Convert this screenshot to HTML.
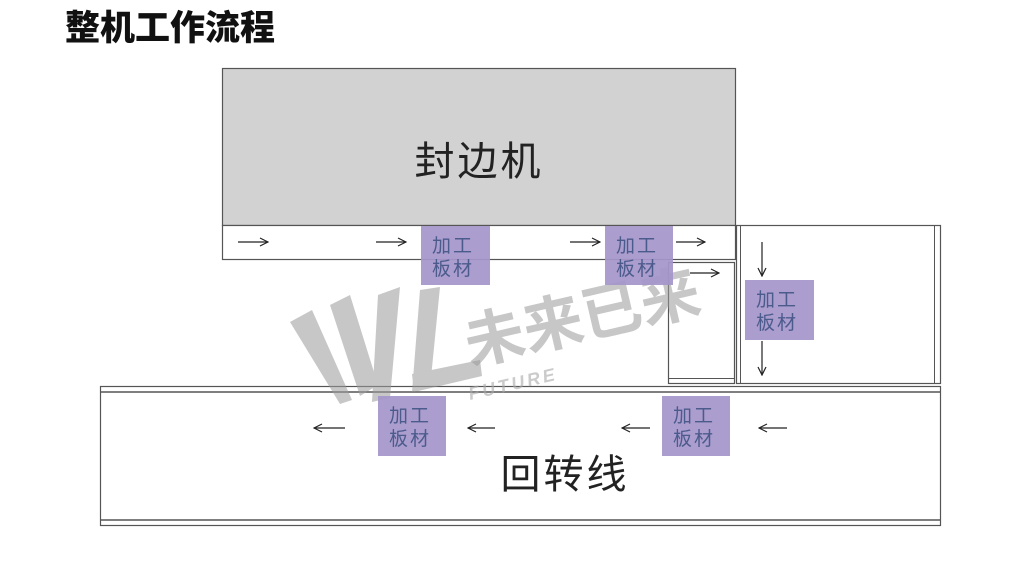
<!DOCTYPE html>
<html><head><meta charset="utf-8"><style>
body{margin:0;background:#fff;width:1030px;height:572px;overflow:hidden}
svg{display:block}
text{font-family:"Liberation Sans","Noto Sans CJK SC",sans-serif}
</style></head><body>
<svg width="1030" height="572" viewBox="0 0 1030 572" xmlns="http://www.w3.org/2000/svg">
<defs><marker id="a" markerWidth="10" markerHeight="10" refX="9" refY="5" orient="auto" markerUnits="userSpaceOnUse"><path d="M1,1 L9,5 L1,9" fill="none" stroke="#222" stroke-width="1.2"/></marker></defs>
<text x="65" y="40" font-size="35" font-weight="900" fill="#111" font-family="'Noto Sans CJK SC',sans-serif">整机工作流程</text>
<!-- machine -->
<rect x="222.5" y="68.5" width="513" height="157" fill="#d2d2d2" stroke="#555" stroke-width="1.2"/>
<text x="479" y="175" font-size="40" fill="#222" text-anchor="middle" font-family="'Noto Sans CJK SC',sans-serif" letter-spacing="3">封边机</text>
<rect x="222.5" y="225.5" width="513" height="34" fill="#fff" stroke="#555" stroke-width="1.2"/>
<!-- right area -->
<rect x="736.5" y="225.5" width="204" height="158" fill="#fff" stroke="#555" stroke-width="1.2"/>
<line x1="740.5" y1="226" x2="740.5" y2="383" stroke="#555"/>
<line x1="934.5" y1="226" x2="934.5" y2="383" stroke="#555"/>
<rect x="668.5" y="262.5" width="66" height="121" fill="#fff" stroke="#555" stroke-width="1.2"/>
<line x1="669" y1="378.5" x2="734" y2="378.5" stroke="#555"/>
<!-- bottom -->
<rect x="100.5" y="386.5" width="840" height="139" fill="#fff" stroke="#555" stroke-width="1.2"/>
<line x1="101" y1="392" x2="940" y2="392" stroke="#555" stroke-width="1.5"/>
<line x1="101" y1="520" x2="940" y2="520" stroke="#555" stroke-width="1.5"/>
<text x="565" y="488" font-size="40" fill="#222" text-anchor="middle" font-family="'Noto Sans CJK SC',sans-serif" letter-spacing="3">回转线</text>
<!-- watermark -->
<g fill="#9a9a9a" opacity="0.55">
<polygon points="290,322 312,310 352,400 340,404"/>
<polygon points="330,305 350,295 378,385 360,396"/>
<polygon points="378,295 400,287 390,398 372,402"/>
<polygon points="420,290 440,287 430,388 412,392"/>
<polygon points="412,374 480,360 482,376 414,392"/>
</g>
<text x="470" y="365" font-size="60" font-weight="bold" fill="#9a9a9a" opacity="0.55" transform="rotate(-13 470 365)" font-family="'Noto Sans CJK SC',sans-serif">未来已来</text>
<text x="470" y="400" font-size="18" font-style="italic" font-weight="bold" fill="#aaa" opacity="0.6" transform="rotate(-13 470 400)" letter-spacing="3">FUTURE</text>
<!-- arrows -->
<g stroke="#222" stroke-width="1.2" marker-end="url(#a)">
<line x1="238" y1="242" x2="268" y2="242"/>
<line x1="376" y1="242" x2="406" y2="242"/>
<line x1="570" y1="242" x2="600" y2="242"/>
<line x1="676" y1="242" x2="705" y2="242"/>
<line x1="690" y1="273" x2="719" y2="273"/>
<line x1="762" y1="242" x2="762" y2="276"/>
<line x1="762" y1="341" x2="762" y2="375"/>
<line x1="345" y1="428" x2="314" y2="428"/>
<line x1="495" y1="428" x2="468" y2="428"/>
<line x1="650" y1="428" x2="622" y2="428"/>
<line x1="787" y1="428" x2="759" y2="428"/>
</g>
<!-- purple boxes -->
<g fill="#a596ca" opacity="0.93">
<rect x="421" y="226" width="69" height="59"/>
<rect x="605" y="226" width="68" height="59"/>
<rect x="745" y="280" width="69" height="60"/>
<rect x="378" y="396" width="68" height="60"/>
<rect x="662" y="396" width="68" height="60"/>
</g>
<g font-size="19" fill="#4b5b8c" font-family="'Noto Sans CJK SC',sans-serif" letter-spacing="2">
<text x="432" y="252">加工</text><text x="432" y="275">板材</text>
<text x="616" y="252">加工</text><text x="616" y="275">板材</text>
<text x="756" y="306">加工</text><text x="756" y="329">板材</text>
<text x="389" y="422">加工</text><text x="389" y="445">板材</text>
<text x="673" y="422">加工</text><text x="673" y="445">板材</text>
</g>
</svg>
</body></html>
